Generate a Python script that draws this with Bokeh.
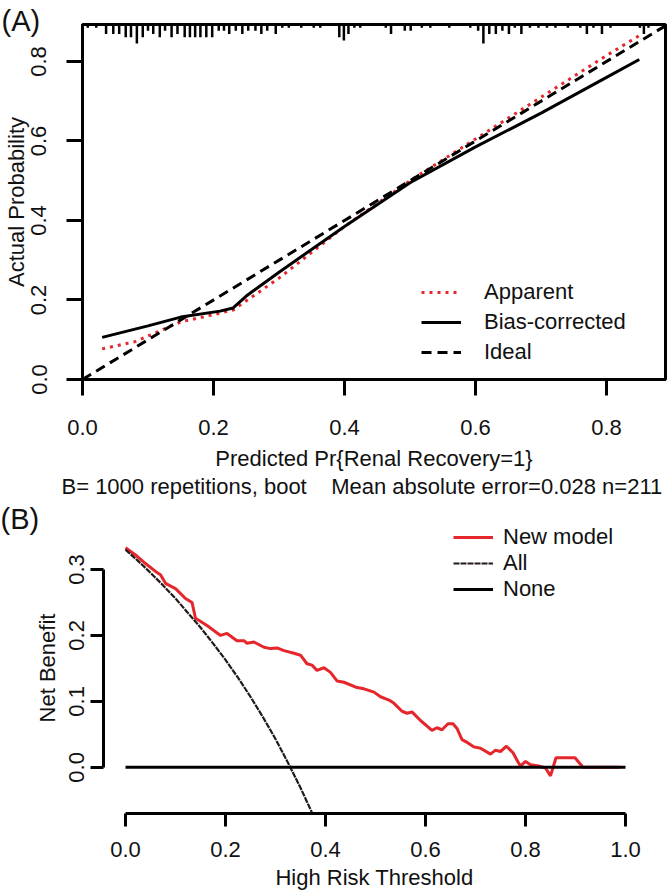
from bokeh.plotting import figure
from bokeh.models import Range1d, FixedTicker, PrintfTickFormatter, Title
from bokeh.embed import file_html
from bokeh.resources import INLINE

FONT = "Liberation Sans"
FS = "22px"
RED = "#e5262b"
INK = "#111111"

# ---------------- Panel A data (calibration) ----------------
ideal_x = [0.0, 1.0]
ideal_y = [0.0, 1.0]
apparent_x = [0.03, 0.08, 0.15, 0.20, 0.23, 0.30, 0.40, 0.50, 0.60, 0.70, 0.80, 0.85]
apparent_y = [0.077, 0.095, 0.145, 0.163, 0.175, 0.255, 0.385, 0.50, 0.605, 0.71, 0.815, 0.865]
bias_x = [0.03, 0.10, 0.15, 0.21, 0.23, 0.25, 0.30, 0.40, 0.50, 0.60, 0.70, 0.80, 0.85]
bias_y = [0.106, 0.135, 0.157, 0.172, 0.18, 0.21, 0.27, 0.385, 0.495, 0.585, 0.67, 0.76, 0.805]
rug_x = [0.008, 0.021, 0.036, 0.047, 0.056, 0.066, 0.074, 0.083, 0.092, 0.100,
         0.108, 0.118, 0.126, 0.136, 0.145, 0.156, 0.164, 0.172, 0.180, 0.189,
         0.198, 0.208, 0.216, 0.224, 0.234, 0.244, 0.253, 0.264, 0.273, 0.282,
         0.295, 0.305, 0.315, 0.334, 0.353, 0.363, 0.392, 0.399, 0.406, 0.415,
         0.424, 0.463, 0.471, 0.492, 0.501, 0.518, 0.531, 0.560, 0.592, 0.604,
         0.612, 0.621, 0.631, 0.641, 0.651, 0.660, 0.670, 0.683, 0.696, 0.709,
         0.722, 0.741, 0.760, 0.770, 0.780, 0.793, 0.806, 0.851, 0.857, 0.864]
rug_n = [1, 1, 3, 3, 3, 4, 4, 6, 4, 2,
         3, 4, 2, 4, 3, 4, 4, 4, 4, 4,
         4, 2, 2, 3, 2, 3, 2, 2, 3, 2,
         3, 1, 1, 1, 1, 1, 4, 5, 3, 1,
         1, 1, 3, 2, 2, 1, 1, 1, 1, 2,
         6, 3, 3, 2, 3, 1, 3, 1, 1, 1,
         1, 1, 1, 3, 1, 3, 1, 1, 3, 1]
ticks_a = [0.0, 0.2, 0.4, 0.6, 0.8]
x_title_a = "Predicted Pr{Renal Recovery=1}"
y_title_a = "Actual Probability"
subtitle_a = "B= 1000 repetitions, boot\u00a0\u00a0\u00a0\u00a0Mean absolute error=0.028 n=211"

# ---------------- Panel B data (decision curve) ----------------
thr = [0.00, 0.02, 0.04, 0.06, 0.07, 0.08, 0.10, 0.12, 0.133, 0.14,
       0.163, 0.19, 0.203, 0.223, 0.237, 0.243, 0.257, 0.277, 0.29, 0.303,
       0.317, 0.337, 0.35, 0.363, 0.373, 0.383, 0.397, 0.41, 0.423, 0.437,
       0.463, 0.477, 0.497, 0.51, 0.527, 0.537, 0.553, 0.563, 0.573, 0.59,
       0.613, 0.623, 0.633, 0.645, 0.655, 0.663, 0.673, 0.685, 0.697, 0.71,
       0.73, 0.74, 0.75, 0.762, 0.775, 0.785, 0.79, 0.80, 0.81, 0.826,
       0.84, 0.85, 0.861, 0.899, 0.915, 0.99]
nb_model = [0.333, 0.322, 0.309, 0.297, 0.292, 0.279, 0.271, 0.256, 0.250, 0.226,
            0.215, 0.200, 0.203, 0.192, 0.192, 0.188, 0.190, 0.182, 0.180, 0.181,
            0.177, 0.173, 0.170, 0.157, 0.155, 0.147, 0.151, 0.144, 0.131, 0.129,
            0.121, 0.119, 0.114, 0.107, 0.102, 0.097, 0.085, 0.082, 0.084, 0.071,
            0.056, 0.060, 0.057, 0.066, 0.066, 0.059, 0.042, 0.037, 0.031, 0.029,
            0.020, 0.026, 0.024, 0.032, 0.022, 0.008, 0.002, 0.009, 0.004, 0.002,
            -0.001, -0.013, 0.0145, 0.0145, 0.0, 0.0]
all_t = [0.0, 0.025, 0.05, 0.075, 0.10, 0.125, 0.15, 0.175, 0.20, 0.225,
         0.25, 0.275, 0.30, 0.325, 0.35, 0.375, 0.40]
all_nb = [0.33, 0.313, 0.295, 0.276, 0.256, 0.234, 0.212, 0.188, 0.163, 0.136,
          0.107, 0.076, 0.043, 0.007, -0.031, -0.072, -0.117]
none_t = [0.0, 1.0]
none_nb = [0.0, 0.0]
ticks_bx = [0.0, 0.2, 0.4, 0.6, 0.8, 1.0]
ticks_by = [0.0, 0.1, 0.2, 0.3]
x_title_b = "High Risk Threshold"
y_title_b = "Net Benefit"


def style_axis(ax, ticks, tick_out, label_standoff, title_standoff):
    ax.ticker = FixedTicker(ticks=ticks)
    ax.formatter = PrintfTickFormatter(format="%.1f")
    ax.minor_tick_line_color = None
    ax.major_tick_in = 0
    ax.major_tick_out = tick_out
    ax.major_tick_line_width = 3
    ax.major_tick_line_color = "black"
    ax.axis_line_width = 3
    ax.axis_line_color = "black"
    ax.major_label_text_font = FONT
    ax.major_label_text_font_size = FS
    ax.major_label_text_color = INK
    ax.major_label_standoff = label_standoff
    ax.axis_label_text_font = FONT
    ax.axis_label_text_font_size = FS
    ax.axis_label_text_font_style = "normal"
    ax.axis_label_text_color = INK
    ax.axis_label_standoff = title_standoff


def style_legend(leg, loc, row_h, standoff):
    leg.location = loc
    leg.padding = 0
    leg.margin = 0
    leg.spacing = 0
    leg.glyph_width = 40
    leg.glyph_height = row_h
    leg.label_height = row_h
    leg.label_standoff = standoff
    leg.label_text_font = FONT
    leg.label_text_font_size = FS
    leg.label_text_color = INK
    leg.border_line_color = None
    leg.background_fill_alpha = 0


def panel_tag(text, offset):
    return Title(text=text, align="left", vertical_align="top", offset=offset,
                 standoff=-40, text_font=FONT, text_font_size="29px",
                 text_font_style="normal", text_color=INK)


# ---------------- Panel A ----------------
pA = figure(width=671, height=502, output_backend="svg", toolbar_location=None,
            x_range=Range1d(0, 0.89), y_range=Range1d(0, 0.893),
            min_border_left=81, min_border_right=6, min_border_top=24,
            min_border_bottom=123)
pA.grid.visible = False
pA.outline_line_color = "black"
pA.outline_line_width = 3
pA.outline_line_alpha = 1
style_axis(pA.xaxis[0], ticks_a, 16, 24, 8)
style_axis(pA.yaxis[0], ticks_a, 16, 20, 0)
pA.yaxis[0].major_label_orientation = "parallel"
pA.xaxis[0].axis_label = x_title_a
pA.yaxis[0].axis_label = y_title_a

rug_top = [pA.y_range.end] * len(rug_x)
rug_bot = [pA.y_range.end - n * 0.008 for n in rug_n]
pA.segment(x0=rug_x, y0=rug_top, x1=rug_x, y1=rug_bot, line_color="black",
           line_width=2.5)

pA.line(apparent_x, apparent_y, line_color=RED, line_width=3, line_dash="3 5",
        legend_label="Apparent")
pA.line(bias_x, bias_y, line_color="black", line_width=3,
        legend_label="Bias-corrected")
pA.line(ideal_x, ideal_y, line_color="black", line_width=3, line_dash="10 6",
        legend_label="Ideal")
style_legend(pA.legend[0], (339, 12), 30, 23)

pA.add_layout(panel_tag("(A)", -81), "above")
pA.add_layout(Title(text=subtitle_a, align="left", vertical_align="top",
                    offset=-21, standoff=0, text_font=FONT, text_font_size=FS,
                    text_font_style="normal", text_color=INK), "below")

# ---------------- Panel B ----------------
pB = figure(width=671, height=391, output_backend="svg", toolbar_location=None,
            x_range=Range1d(-0.044, 1.04), y_range=Range1d(-0.07, 0.3712),
            min_border_left=103, min_border_right=26, min_border_top=20,
            min_border_bottom=80)
pB.grid.visible = False
pB.outline_line_color = None
style_axis(pB.xaxis[0], ticks_bx, 13, 15, 5)
style_axis(pB.yaxis[0], ticks_by, 13, 6, 7)
pB.yaxis[0].major_label_orientation = "parallel"
pB.xaxis[0].bounds = (0, 1)
pB.yaxis[0].bounds = (0, 0.3)
pB.xaxis[0].axis_label = x_title_b
pB.yaxis[0].axis_label = y_title_b

pB.line(thr, nb_model, line_color=RED, line_width=3, legend_label="New model")
pB.line(all_t, all_nb, line_color="#231a1a", line_width=2.2, line_dash="6 1",
        legend_label="All")
pB.line(none_t, none_nb, line_color="black", line_width=3, legend_label="None")
style_legend(pB.legend[0], (350, 211), 26, 10)

pB.add_layout(panel_tag("(B)", -103), "above")

p = [pA, pB]
open("out.html", "w").write(file_html(p, INLINE))
